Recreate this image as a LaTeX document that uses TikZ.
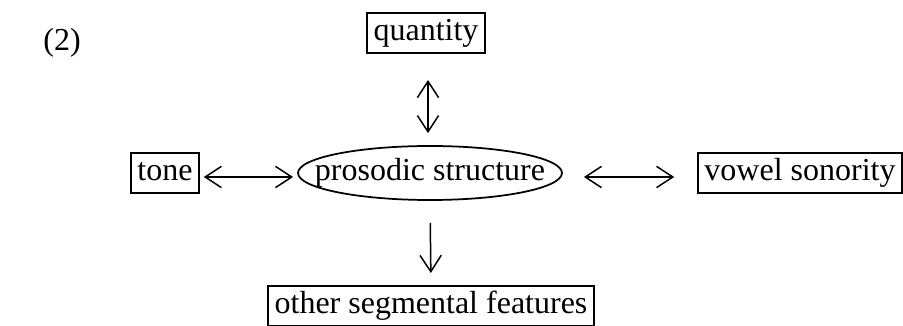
\documentclass[tikz,border=0pt]{standalone}
\usepackage{fontspec}
\setmainfont{Liberation Serif}
\usetikzlibrary{arrows.meta, positioning, shapes.geometric}

\begin{document}
\begin{tikzpicture}[x=0.4pt, y=-0.4pt,
    every node/.style={font=\fontsize{12.8}{15}\selectfont},
    box/.style={rectangle, draw, line width=0.8pt, inner xsep=2.5pt, inner ysep=2pt,
      text height=9pt, text depth=3pt},
    oval/.style={ellipse, draw, line width=0.7pt, inner sep=0pt,
      minimum width=105.6pt, minimum height=21.6pt},
    arrow/.style={line width=0.6pt, {Straight Barb[length=6.5pt, width=8.5pt]}-{Straight Barb[length=6.5pt, width=8.5pt]}},
    down/.style={line width=0.6pt, -{Straight Barb[length=6.5pt, width=8.5pt]}}
]
\useasboundingbox (0,0) rectangle (903,326);
\node (num) at (62,43) {(2)};
\node[oval] (pros) at (430,173) {\makebox[0pt]{prosodic structure}};
\node[box] (quan) at (426,33) {quantity};
\node[box] (tone) at (165,173) {tone};
\node[box] (vowel) at (800,173) {vowel sonority};
\node[box] (other) at (431,306) {other segmental features};
\draw[arrow, shorten <=4.8pt, shorten >=10.4pt] ([xshift=-0.8pt]pros.north) -- ([xshift=-0.8pt]pros.north |- quan.south);
\draw[arrow, shorten <=1.6pt, shorten >=1.6pt] ([yshift=-1.6pt]tone.east) -- ([yshift=-1.6pt]pros.west);
\draw[arrow, shorten <=8.4pt, shorten >=9.2pt] ([yshift=-1.6pt]pros.east) -- ([yshift=-1.6pt]vowel.west);
\draw[down, shorten <=8.8pt, shorten >=4.8pt] (pros.south) -- (other.north);
\end{tikzpicture}
\end{document}
